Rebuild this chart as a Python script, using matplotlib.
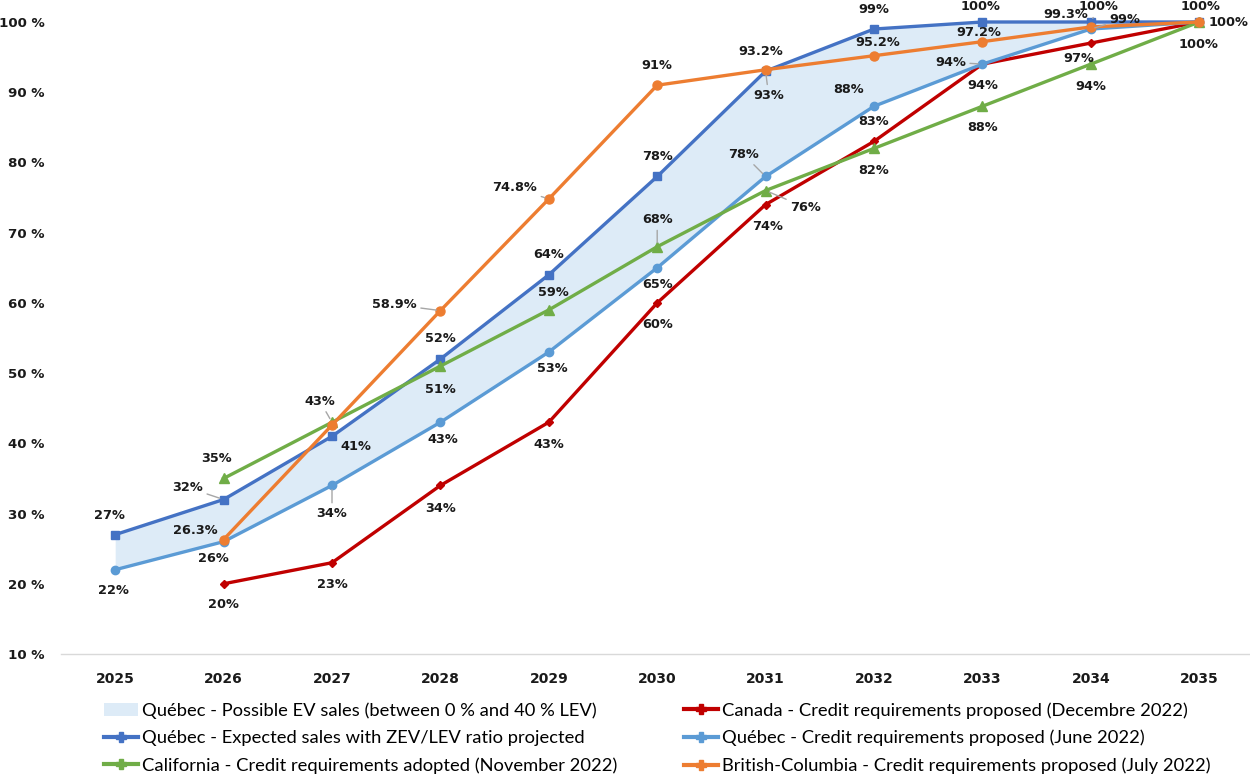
import matplotlib
matplotlib.use("Agg")
import matplotlib.pyplot as plt
from matplotlib.lines import Line2D
from matplotlib.patches import Patch

years = [2025, 2026, 2027, 2028, 2029, 2030, 2031, 2032, 2033, 2034, 2035]

qc_expected = [27, 32, 41, 52, 64, 78, 93, 99, 100, 100, 100]
qc_june = [22, 26, 34, 43, 53, 65, 78, 88, 94, 99, 100]
canada = [None, 20, 23, 34, 43, 60, 74, 83, 94, 97, 100]
california = [None, 35, 43, 51, 59, 68, 76, 82, 88, 94, 100]
bc = [None, 26.3, 42.6, 58.9, 74.8, 91, 93.2, 95.2, 97.2, 99.3, 100]

yticks = [10, 20, 30, 40, 50, 60, 70, 80, 90, 100]

names = {
    "fill": "Québec - Possible EV sales (between 0 % and 40 % LEV)",
    "qc_expected": "Québec - Expected sales with ZEV/LEV ratio projected",
    "california": "California - Credit requirements adopted (November 2022)",
    "canada": "Canada - Credit requirements proposed (Decembre 2022)",
    "qc_june": "Québec - Credit requirements proposed (June 2022)",
    "bc": "British-Columbia - Credit requirements proposed (July 2022)",
}

# label offsets in pixels (dx, dy, leader line); None = no label
label_pos = {
    "qc_expected": [(-6, 19, 0), (-36, 12, 1), (24, -10, 0), (0, 21, 0), (0, 20, 0),
                    (0, 20, 0), (3, -24, 1), (0, 20, 0), (-2, 15, 0), (8, 15, 1), (1, 15, 0)],
    "qc_june": [(-2, -21, 0), (-10, -17, 0), (0, -28, 1), (2, -17, 0), (4, -16, 0),
                (0, -17, 0), (-22, 22, 1), (-25, 17, 0), (-32, 2, 1), (34, 10, 1), None],
    "canada": [None, (0, -21, 0), (0, -22, 0), (0, -23, 0), (0, -22, 0), (0, -22, 0),
               (2, -22, 0), (0, 20, 0), (0, -21, 0), (-12, -15, 0), None],
    "california": [None, (-7, 20, 0), (-12, 21, 1), (0, -23, 0), (5, 17, 0), (0, 27, 1),
                   (40, -17, 1), (0, -22, 0), (0, -21, 0), (0, -22, 0), (-1, -22, 0)],
    "bc": [None, (-28, 9, 0), None, (-46, 6, 1), (-34, 11, 1), (0, 20, 0),
           (-5, 18, 0), (4, 13, 0), (-4, 9, 0), (-25, 12, 0), (29, 0, 0)],
}

styles = {
    "canada": dict(color="#C00000", marker="D", ms=4.5),
    "qc_june": dict(color="#5B9BD5", marker="o", ms=6),
    "qc_expected": dict(color="#4472C4", marker="s", ms=6),
    "california": dict(color="#70AD47", marker="^", ms=6.5),
    "bc": dict(color="#ED7D31", marker="o", ms=6.5),
}
series = {"canada": canada, "qc_june": qc_june, "qc_expected": qc_expected,
          "california": california, "bc": bc}

fig = plt.figure(figsize=(12.5, 7.81), dpi=100)
ax = fig.add_axes([61 / 1250, 127 / 781, 1192.4 / 1250, 632 / 781])

x = list(range(len(years)))
ax.fill_between(x, qc_june, qc_expected, color="#DDEBF7", lw=0, zorder=1)

for key, vals in series.items():
    st = styles[key]
    xs = [i for i, v in zip(x, vals) if v is not None]
    ys = [v for v in vals if v is not None]
    ax.plot(xs, ys, color=st["color"], lw=2.4, marker=st["marker"], ms=st["ms"],
            mec=st["color"], mfc=st["color"], clip_on=False, zorder=3,
            solid_joinstyle="round")
    for i, v in zip(x, vals):
        pos = label_pos[key][i]
        if v is None or pos is None:
            continue
        dx, dy, leader = pos
        props = None
        if leader:
            props = dict(arrowstyle="-", color="#A6A6A6", lw=1, shrinkA=1, shrinkB=3)
        ax.annotate(f"{v:g}%", (i, v), xytext=(dx, dy), textcoords="offset pixels",
                    ha="center", va="center", fontsize=9.3, fontweight="bold",
                    color="#1a1a1a", arrowprops=props, zorder=5, annotation_clip=False)

ax.set_xlim(-0.5, 10.5)
ax.set_ylim(10, 100)
ax.set_xticks(x)
ax.set_xticklabels([str(y) for y in years])
ax.set_yticks(yticks)
ax.set_yticklabels([f"{t} %" for t in yticks])
ax.tick_params(length=0)
ax.tick_params(axis="x", pad=13, labelsize=10)
ax.tick_params(axis="y", pad=12, labelsize=9.6)
for lab in ax.get_xticklabels() + ax.get_yticklabels():
    lab.set_fontweight("bold")
    lab.set_color("#1a1a1a")
for side in ("top", "right", "left"):
    ax.spines[side].set_visible(False)
ax.spines["bottom"].set_color("#D9D9D9")
ax.spines["bottom"].set_linewidth(1)

handles = [Patch(facecolor="#DDEBF7", edgecolor="none")]
for key in ("qc_expected", "california", "canada", "qc_june", "bc"):
    st = styles[key]
    handles.append(Line2D([], [], color=st["color"], lw=3, marker="P", ms=7,
                          mec=st["color"], mfc=st["color"]))
labels = [names[k] for k in ("fill", "qc_expected", "california", "canada", "qc_june", "bc")]

fig.legend(handles, labels, ncol=2, loc="upper left", bbox_to_anchor=(104 / 1250, 1 - 702 / 781),
           frameon=False, prop={"family": ["Lato", "DejaVu Sans"], "size": 13.2},
           handlelength=1.86, handletextpad=0.2, columnspacing=3.65, labelspacing=0.62,
           borderaxespad=0, borderpad=0)

fig.savefig("out.png", dpi=100)
